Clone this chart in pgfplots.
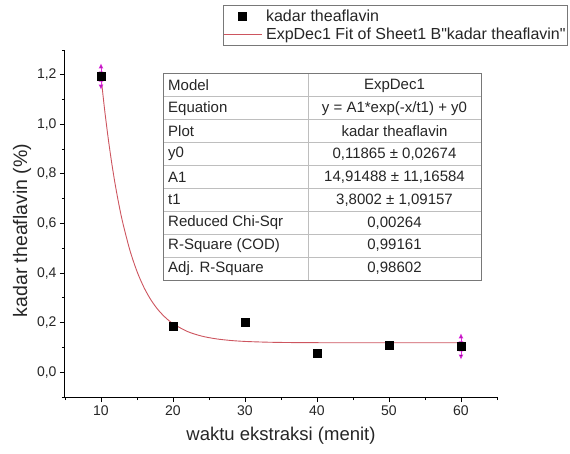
\documentclass[border=0pt]{standalone}
\usepackage{pgfplots}
\pgfplotsset{compat=1.18}
\usepackage{fontspec}
\setmainfont{Liberation Sans}[Ligatures=TeXOff]
\usetikzlibrary{arrows.meta}
\definecolor{fitred}{RGB}{205,85,95}
\definecolor{errmag}{RGB}{225,40,225}
\definecolor{tabline}{RGB}{190,190,190}
\definecolor{tabborder}{RGB}{120,120,120}
\pgfplotsset{
  legpts/.style={legend image code/.code={\draw[##1, mark repeat=2, mark phase=2] plot coordinates {(0pt,0pt) (19pt,0pt) (38pt,0pt)};}},
  legline/.style={legend image code/.code={\draw[##1] (0pt,0pt) -- (38pt,0pt);}},
}
\begin{document}
\begin{tikzpicture}
\useasboundingbox (0,0) rectangle (570pt,453pt);
\begin{axis}[
  at={(65pt,56pt)}, anchor=south west,
  scale only axis, width=432pt, height=347pt,
  xmin=5, xmax=65, ymin=-0.1, ymax=1.3,
  axis x line*=bottom, axis y line*=left,
  axis line style={black, line width=1pt},
  xtick={10,20,30,40,50,60}, minor xtick={5,15,25,35,45,55,65},
  ytick={0,0.2,0.4,0.6,0.8,1.0,1.2}, minor ytick={-0.1,0.1,0.3,0.5,0.7,0.9,1.1,1.3},
  tick align=outside, major tick length=5pt, minor tick length=3pt,
  tick style={black, line width=0.9pt},
  /pgf/number format/assume math mode=true,
  yticklabel style={/pgf/number format/.cd, fixed, fixed zerofill, precision=1, use comma},
  ticklabel style={font=\fontsize{14}{16}\selectfont, text=black!85},
  xlabel={waktu ekstraksi (menit)},
  ylabel={kadar theaflavin (\%)},
  xlabel style={at={(axis description cs:0.5,0)}, anchor=north, yshift=-30pt, inner sep=0pt, font=\fontsize{18.5}{20}\selectfont, text=black!85},
  ylabel style={at={(axis description cs:0,0.5)}, anchor=center, xshift=-7pt, yshift=43pt, inner sep=0pt, font=\fontsize{19.5}{21}\selectfont, text=black!85},
  legend style={at={(0.3657,1.1297)}, anchor=north west, draw=tabborder, fill=white,
    font=\fontsize{16}{18}\selectfont, inner xsep=0pt, inner ysep=2.7pt,
    row sep=0.6pt, column sep=2pt, nodes={inner sep=2pt, text=black!85}},
  legend cell align=left,
  clip=false,
]
\addplot[only marks, mark=square*, mark size=4pt, mark options={fill=black, draw=black}, legpts]
  coordinates {(10,1.193) (20,0.184) (30,0.200) (40,0.076) (50,0.107) (60,0.104)};
\addlegendentry{kadar theaflavin}
\addplot[fitred, line width=0.9pt, smooth, mark=none, legline]
  coordinates {(10,1.1922) (10.5,1.0598) (11,0.9438) (11.5,0.8421) (12,0.7529) (12.5,0.6747)
  (13,0.6061) (14,0.4933) (15,0.4066) (16,0.3400) (17,0.2888) (18,0.2494) (19,0.2192)
  (20,0.1959) (22,0.1643) (24,0.1456) (26,0.1346) (28,0.1281) (30,0.1242) (33,0.1212)
  (36,0.1198) (40,0.1191) (45,0.1188) (50,0.1187) (60,0.1187)};
\addlegendentry{ExpDec1 Fit of Sheet1 B"kadar theaflavin"}
\addplot[forget plot, only marks, mark=none,
  error bars/.cd, y dir=both, y explicit, error mark=none,
  error bar style={draw=errmag, line width=0.9pt, {Latex[length=5pt,width=5pt]}-{Latex[length=5pt,width=5pt]}}]
  coordinates {(10,1.193) +- (0,0.053) (60,0.104) +- (0,0.053)};
\end{axis}
% fit results table
\fill[white] (163pt,173pt) rectangle (481pt,379pt);
\foreach \k in {1,...,8} {
  \draw[tabline, line width=0.8pt] (163pt,{379pt-\k*22.889pt}) -- (481pt,{379pt-\k*22.889pt});
}
\draw[tabline, line width=0.8pt] (308pt,173pt) -- (308pt,379pt);
\draw[tabborder, line width=1pt] (163pt,173pt) rectangle (481pt,379pt);
\begin{scope}[every node/.style={font=\fontsize{15}{17}\selectfont, text=black!85, inner sep=0pt}]
\foreach \i/\a/\b in {0/Model/ExpDec1, 1/Equation/{y = A1*exp(-x/t1) + y0}, 2/Plot/kadar theaflavin,
  3/y0/{0,11865 ± 0,02674}, 4/A1/{14,91488 ± 11,16584}, 5/t1/{3,8002 ± 1,09157},
  6/Reduced Chi-Sqr/{0,00264}, 7/R-Square (COD)/{0,99161}, 8/Adj. R-Square/{0,98602}} {
  \node[anchor=west] at (168pt,{379pt-(\i+0.5)*22.889pt}) {\a};
  \node[anchor=center] at (394.5pt,{379pt-(\i+0.5)*22.889pt}) {\b};
}
\end{scope}
\end{tikzpicture}
\end{document}
